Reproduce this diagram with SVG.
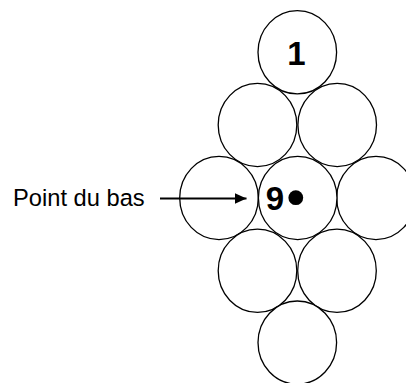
<svg xmlns="http://www.w3.org/2000/svg" width="406" height="383" viewBox="0 0 406 383">
<style>
.c{fill:#fff;stroke:#000;stroke-width:1.3}
.num{font-family:"Liberation Sans",Arial,sans-serif;font-weight:bold;font-size:33px;fill:#000;text-anchor:middle}
.lbl{font-family:"Liberation Sans",Arial,sans-serif;font-size:23.7px;fill:#000}
</style>
<defs>
<marker id="ah" viewBox="0 0 12 11" refX="12" refY="5.5" markerWidth="12" markerHeight="11" markerUnits="userSpaceOnUse" orient="auto">
<path d="M0,0 L12,5.5 L0,11 Z" fill="#000"/>
</marker>
</defs>
<g id="n1"><ellipse class="c" cx="297.3" cy="52.3" rx="39.3" ry="41.6"/><text class="num" x="296.5" y="64.8">1</text></g>
<g id="n2"><ellipse class="c" cx="257.5" cy="125" rx="39.3" ry="41.6"/></g>
<g id="n3"><ellipse class="c" cx="337.2" cy="125" rx="39.3" ry="41.6"/></g>
<g id="n4"><ellipse class="c" cx="219" cy="198" rx="39.3" ry="41.6"/></g>
<g id="n6"><ellipse class="c" cx="376" cy="198" rx="39.3" ry="41.6"/></g>
<g id="n5"><ellipse class="c" cx="297.7" cy="198" rx="39.3" ry="41.6"/><text class="num" x="275" y="210">9</text><circle cx="295.8" cy="197.7" r="7.4" fill="#000"/></g>
<g id="n7"><ellipse class="c" cx="257.5" cy="270.8" rx="39.3" ry="41.6"/></g>
<g id="n8"><ellipse class="c" cx="337" cy="270.8" rx="39.3" ry="41.6"/></g>
<g id="n9"><ellipse class="c" cx="297.3" cy="342.6" rx="39.3" ry="41.6"/></g>
<g id="label"><text class="lbl" x="13" y="205.5">Point du bas</text></g>
<g id="connectors"><line x1="160" y1="198.5" x2="246.5" y2="198.5" stroke="#000" stroke-width="2" marker-end="url(#ah)"/></g>
</svg>
